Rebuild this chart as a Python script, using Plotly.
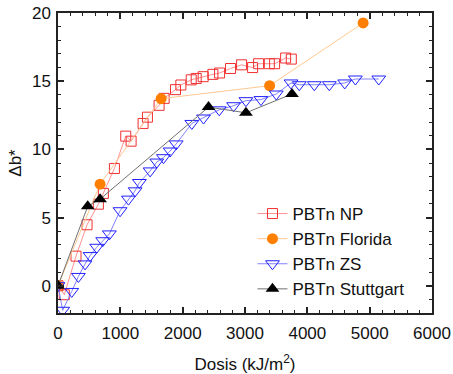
import plotly.graph_objects as go

np_x = [0, 101, 289, 466, 648, 728, 905, 1087, 1173, 1365, 1435, 1622, 1703, 1885, 1971,
        2137, 2217, 2329, 2485, 2592, 2768, 2945, 3122, 3218, 3390, 3475, 3652, 3743]
np_y = [0, -0.66, 2.17, 4.47, 5.98, 6.77, 8.6, 10.97, 10.6, 11.9, 12.36, 13.23, 13.74, 14.38, 14.72,
        15.1, 15.2, 15.33, 15.5, 15.6, 15.93, 16.2, 16.0, 16.28, 16.28, 16.28, 16.7, 16.62]

fl_x = [0, 675, 1654, 3395, 4895]
fl_y = [0, 7.45, 13.72, 14.67, 19.27]

zs_x = [0, 75, 220, 327, 434, 514, 621, 717, 824, 996, 1130, 1237, 1306, 1478, 1585, 1692, 1799,
        1896, 2147, 2334, 2587, 2817, 3015, 3256, 3502, 3738, 3871, 4112, 4353, 4600, 4771, 5146]
zs_y = [0, -1.8, -0.42, 0.68, 1.6, 2.21, 2.82, 3.3, 3.8, 5.5, 6.35, 6.96, 7.57, 8.42, 9.07, 9.39, 9.88,
        10.4, 11.9, 12.3, 12.9, 13.2, 13.57, 13.65, 14.06, 14.87, 14.74, 14.74, 14.74, 14.87, 15.16, 15.16]

st_x = [0, 477, 675, 2415, 3015, 3754]
st_y = [0, 5.82, 6.35, 13.1, 12.68, 14.06]

FONT = "Liberation Sans, Arial"

fig = go.Figure()
fig.add_trace(go.Scatter(x=np_x, y=np_y, mode="lines+markers", name="PBTn NP",
                         line=dict(color="#ff9090", width=1),
                         marker=dict(symbol="square-open", size=10, color="#f03030", line=dict(width=1))))
fig.add_trace(go.Scatter(x=fl_x, y=fl_y, mode="lines+markers", name="PBTn Florida",
                         line=dict(color="#ffc890", width=1),
                         marker=dict(symbol="circle", size=11, color="#ff8000")))
fig.add_trace(go.Scatter(x=zs_x, y=zs_y, mode="lines+markers", name="PBTn ZS",
                         line=dict(color="#8080ff", width=1),
                         marker=dict(symbol="triangle-down-open", size=12, color="#2020ff", line=dict(width=1))))
fig.add_trace(go.Scatter(x=st_x, y=st_y, mode="lines+markers", name="PBTn Stuttgart",
                         line=dict(color="#707070", width=1),
                         marker=dict(symbol="triangle-up", size=12, color="#000000")))

axis_common = dict(showgrid=False, zeroline=False, showline=True, linecolor="#222", linewidth=1.5,
                   mirror="ticks", ticks="inside", ticklen=6, tickcolor="#222", tickwidth=1.5,
                   automargin=False, ticklabeloverflow="allow",
                   tickfont=dict(family=FONT, size=17, color="#111"))

fig.update_xaxes(range=[0, 6000], dtick=1000, **axis_common, ticklabelstandoff=4,
                 minor=dict(dtick=200, ticks="inside", ticklen=3, tickcolor="#222", tickwidth=1),
                 title=dict(text="Dosis (kJ/m<sup>2</sup>)", font=dict(family=FONT, size=17, color="#111"), standoff=18))
fig.update_yaxes(range=[-2, 20], tick0=0, dtick=5, **axis_common, ticklabelstandoff=2,
                 minor=dict(dtick=1, ticks="inside", ticklen=3, tickcolor="#222", tickwidth=1),
                 title=dict(text="Δb*", font=dict(family=FONT, size=17, color="#111"), standoff=6))

fig.update_layout(width=453, height=374, margin=dict(l=58, r=21, t=13, b=61),
                  plot_bgcolor="white", paper_bgcolor="white",
                  legend=dict(x=0.52, y=0.02, xanchor="left", yanchor="bottom",
                              bgcolor="rgba(0,0,0,0)", tracegroupgap=0,
                              font=dict(family=FONT, size=17, color="#111")))
fig.write_html("out.html", config={"displayModeBar": False},
               post_script="document.body.style.margin='0';document.body.style.overflow='hidden';")
